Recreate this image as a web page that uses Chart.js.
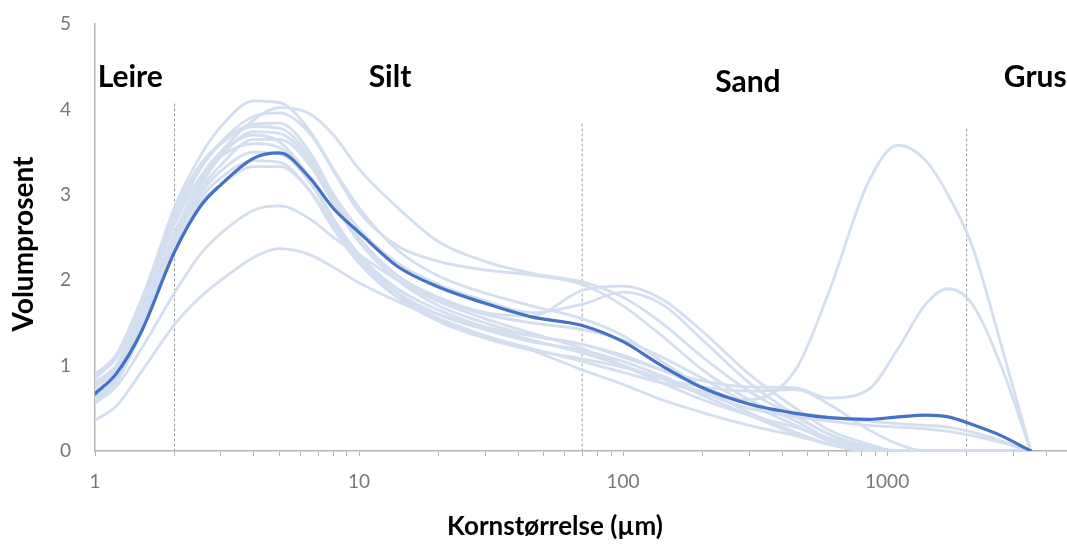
<!DOCTYPE html>
<html>
<head>
<meta charset="utf-8">
<script src="https://cdn.jsdelivr.net/npm/chart.js@4"></script>
<style>
  body { margin: 0; background: #fff; }
  #wrap { width: 1067px; height: 545px; }
</style>
</head>
<body>
<div id="wrap"><canvas id="grain"></canvas></div>
<script>
// grain sizes (µm) shared by all samples
const sizes = [1, 1.2, 1.5, 2, 2.5, 3, 4, 5, 6.5, 8, 10, 14, 20, 30, 45, 70, 100, 140, 200, 300, 450, 600, 850, 1100, 1400, 1700, 2100, 2700, 3500];

// mean curve
const meanCurve = [0.67, 0.9, 1.4, 2.33, 2.86, 3.12, 3.43, 3.49, 3.2, 2.84, 2.56, 2.16, 1.92, 1.73, 1.57, 1.47, 1.28, 1.0, 0.74, 0.55, 0.44, 0.39, 0.37, 0.4, 0.42, 0.4, 0.31, 0.18, 0];

// individual samples
const s1  = [0.85, 1.1, 1.75, 2.85, 3.45, 3.8, 4.1, 4.08, 3.75, 3.3, 2.85, 2.35, 2.05, 1.85, 1.7, 1.55, 1.35, 1.05, 0.75, 0.45, 0.22, 0.08, 0, 0, 0, 0, 0, 0, 0];
const s2  = [0.8, 1.0, 1.55, 2.55, 3.15, 3.5, 3.88, 4.02, 3.95, 3.7, 3.3, 2.85, 2.45, 2.22, 2.08, 1.98, 1.8, 1.5, 1.1, 0.7, 0.4, 0.2, 0.05, 0, 0, 0, 0, 0, 0];
const s3  = [0.75, 0.95, 1.6, 2.7, 3.3, 3.62, 3.92, 3.96, 3.72, 3.28, 2.8, 2.4, 2.22, 2.12, 2.06, 1.95, 1.7, 1.35, 0.95, 0.6, 0.35, 0.15, 0.03, 0, 0, 0, 0, 0, 0];
const s4  = [0.9, 1.12, 1.78, 2.8, 3.35, 3.6, 3.8, 3.78, 3.45, 3.0, 2.6, 2.2, 1.95, 1.76, 1.62, 1.72, 1.86, 1.72, 1.3, 0.8, 0.42, 0.2, 0.05, 0, 0, 0, 0, 0, 0];
const s5  = [0.7, 0.9, 1.5, 2.55, 3.1, 3.45, 3.74, 3.72, 3.4, 2.95, 2.5, 2.05, 1.8, 1.62, 1.58, 1.88, 1.93, 1.78, 1.4, 0.9, 0.5, 0.25, 0.08, 0, 0, 0, 0, 0, 0];
const s6  = [0.65, 0.85, 1.45, 2.5, 3.05, 3.35, 3.65, 3.65, 3.35, 2.9, 2.45, 2.0, 1.7, 1.5, 1.35, 1.25, 1.12, 0.95, 0.75, 0.55, 0.45, 0.4, 0.35, 0.32, 0.3, 0.28, 0.22, 0.12, 0];
const s7  = [0.8, 1.0, 1.65, 2.7, 3.2, 3.45, 3.6, 3.55, 3.2, 2.72, 2.3, 1.9, 1.65, 1.45, 1.3, 1.15, 1.0, 0.85, 0.75, 0.7, 0.72, 0.55, 0.25, 0.08, 0, 0, 0, 0, 0];
const s8  = [0.6, 0.8, 1.4, 2.45, 3.0, 3.28, 3.5, 3.48, 3.15, 2.7, 2.3, 1.85, 1.55, 1.35, 1.2, 1.05, 0.92, 0.8, 0.7, 0.6, 0.95, 1.85, 3.15, 3.58, 3.4, 3.0, 2.4, 1.25, 0];
const s9  = [0.7, 0.9, 1.5, 2.5, 2.95, 3.2, 3.4, 3.38, 3.05, 2.6, 2.2, 1.8, 1.6, 1.45, 1.35, 1.25, 1.1, 0.95, 0.82, 0.75, 0.74, 0.62, 0.72, 1.2, 1.72, 1.9, 1.72, 1.0, 0];
const s10 = [0.62, 0.82, 1.4, 2.4, 2.9, 3.12, 3.33, 3.33, 3.05, 2.65, 2.25, 1.85, 1.6, 1.42, 1.28, 1.18, 1.05, 0.88, 0.68, 0.5, 0.4, 0.35, 0.3, 0.28, 0.26, 0.23, 0.18, 0.1, 0];
const s11 = [0.78, 0.98, 1.62, 2.65, 3.2, 3.5, 3.7, 3.62, 3.2, 2.7, 2.25, 1.8, 1.52, 1.32, 1.18, 1.08, 0.98, 0.85, 0.65, 0.42, 0.2, 0.08, 0, 0, 0, 0, 0, 0, 0];
const s12 = [0.56, 0.75, 1.2, 1.85, 2.3, 2.55, 2.82, 2.87, 2.72, 2.5, 2.3, 2.0, 1.75, 1.55, 1.38, 1.2, 1.0, 0.8, 0.6, 0.42, 0.28, 0.15, 0.05, 0, 0, 0, 0, 0, 0];
const s13 = [0.36, 0.52, 0.93, 1.48, 1.8, 2.0, 2.27, 2.37, 2.3, 2.15, 1.97, 1.75, 1.55, 1.35, 1.18, 0.95, 0.78, 0.6, 0.45, 0.3, 0.18, 0.08, 0.02, 0, 0, 0, 0, 0, 0];
const s14 = [0.88, 1.08, 1.7, 2.75, 3.3, 3.6, 3.83, 3.84, 3.5, 3.0, 2.5, 2.05, 1.78, 1.6, 1.5, 1.42, 1.3, 1.1, 0.85, 0.55, 0.3, 0.12, 0.02, 0, 0, 0, 0, 0, 0];
const samples = [s1, s2, s3, s4, s5, s6, s7, s8, s9, s10, s11, s12, s13, s14];

// class boundaries (µm) and how high the dotted line goes
const boundaries = [2, 70, 2000];
const boundaryTops = [4.07, 3.85, 3.79];

// class names
const zoneNames = ['Leire', 'Silt', 'Sand', 'Grus'];
const zoneX = [1.36, 13.1, 297, 3640];
const zoneY = [4.37, 4.37, 4.32, 4.37];

const xTickLabels = [1, 10, 100, 1000];
const xTickMarks = [1,2,3,4,5,6,7,8,9,10,20,30,40,50,60,70,80,90,100,200,300,400,500,600,700,800,900,1000,2000,3000,4000];

const xTitle = 'Kornstørrelse (µm)';
const yTitle = 'Volumprosent';

const toPoints = arr => sizes.map((x, i) => ({x: x, y: arr[i]}));

const datasets = [];
datasets.push({
    data: toPoints(meanCurve),
    borderColor: '#4472c4',
    borderWidth: 3.2,
    order: 0
});
samples.forEach(s => {
    datasets.push({
        data: toPoints(s),
        borderColor: '#d3deef',
        borderWidth: 2.8,
        order: 2
    });
});
boundaries.forEach((b, i) => {
    datasets.push({
        data: [{x: b, y: 0}, {x: b, y: boundaryTops[i]}],
        borderColor: '#9a9a9a',
        borderWidth: 1,
        borderDash: [2, 3],
        cubicInterpolationMode: 'default',
        tension: 0,
        order: 3
    });
});

// zone names and the two axis titles
const textLayer = {
    id: 'textLayer',
    afterDraw(chart) {
        const ctx = chart.ctx;
        const xs = chart.scales.x, ys = chart.scales.y;
        ctx.save();
        ctx.fillStyle = '#000';
        ctx.textAlign = 'center';
        ctx.textBaseline = 'middle';
        ctx.font = 'bold 30px Lato';
        zoneNames.forEach((n, i) => {
            ctx.fillText(n, xs.getPixelForValue(zoneX[i]), ys.getPixelForValue(zoneY[i]));
        });
        ctx.font = 'bold 26px Lato';
        ctx.fillText(xTitle, 555, 527);
        ctx.translate(24, 244);
        ctx.rotate(-Math.PI / 2);
        ctx.font = 'bold 28px Lato';
        ctx.fillText(yTitle, 0, 0);
        ctx.restore();
    }
};

new Chart(document.getElementById('grain').getContext('2d'), {
    type: 'line',
    data: { datasets: datasets },
    plugins: [textLayer],
    options: {
        responsive: true,
        maintainAspectRatio: false,
        animation: false,
        layout: { padding: { top: 24, right: 0, left: 0, bottom: 0 } },
        elements: {
            point: { radius: 0 },
            line: { cubicInterpolationMode: 'monotone', borderCapStyle: 'round', borderJoinStyle: 'round' }
        },
        plugins: { legend: { display: false }, tooltip: { enabled: false } },
        scales: {
            x: {
                type: 'logarithmic',
                min: 1,
                max: 4800,
                afterFit: scale => { scale.height = 94; scale.paddingLeft = 0; scale.paddingRight = 0; },
                afterBuildTicks: scale => { scale.ticks = xTickMarks.map(v => ({value: v})); },
                grid: { display: true, drawOnChartArea: false, drawTicks: true, tickLength: 5, color: '#b5b5b5' },
                border: { color: '#b5b5b5', width: 1.5 },
                ticks: {
                    autoSkip: false,
                    maxRotation: 0,
                    padding: 14,
                    color: '#777',
                    font: { family: 'Lato', size: 19 },
                    callback: v => xTickLabels.includes(v) ? String(v) : ''
                }
            },
            y: {
                min: 0,
                max: 5,
                afterFit: scale => { scale.width = 95; scale.paddingTop = 0; scale.paddingBottom = 0; },
                grid: { display: false, drawTicks: false },
                border: { color: '#b5b5b5', width: 1.5 },
                ticks: {
                    stepSize: 1,
                    padding: 24,
                    color: '#777',
                    font: { family: 'Lato', size: 19 }
                }
            }
        }
    }
});
</script>
</body>
</html>
